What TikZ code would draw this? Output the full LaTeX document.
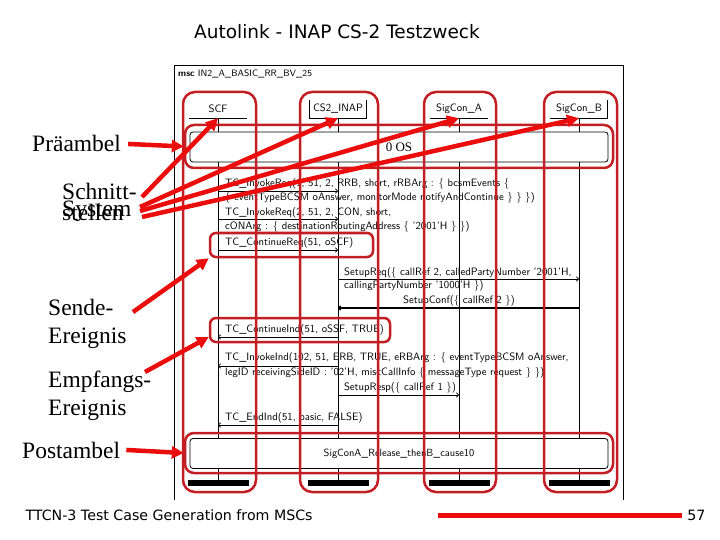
\documentclass[tikz,border=0pt]{standalone}
\usepackage{fontspec}
\setmainfont{Liberation Serif}
\newfontfamily\slidefont{DejaVu Sans}
\usepackage{tikz}
\usetikzlibrary{arrows.meta,positioning,calc}

\definecolor{hlred}{RGB}{195,30,35}
\definecolor{markred}{RGB}{235,12,12}

\begin{document}
\begin{tikzpicture}[x=1pt, y=-1pt,
    msctext/.style={font=\sffamily\fontsize{10.7}{12}\selectfont, inner sep=0pt},
    head/.style={msctext, minimum width=57pt, minimum height=18pt},
    refbox/.style={draw, line width=0.8pt, fill=white, rounded corners=3pt, minimum width=418pt, minimum height=30pt},
    msg/.style={-{To[length=3pt,width=5pt]}, line width=0.7pt},
    hilite/.style={draw=hlred, line width=2.5pt, rounded corners=12pt},
    smallhilite/.style={hilite, rounded corners=6pt},
    pointer/.style={draw=markred, line width=4.5pt, -{Triangle[length=12pt,width=12pt]}},
    annot/.style={font=\fontsize{23.5}{28}\selectfont, inner sep=0pt, anchor=base west}
]
    \useasboundingbox (0,0) rectangle (720,540);

    % slide title and footer
    \node[font=\slidefont\fontsize{18.5}{21}\selectfont, anchor=base] (title) at (337,39) {Autolink - INAP CS-2 Testzweck};
    \node[font=\slidefont\fontsize{14.2}{16}\selectfont, anchor=base west] (footer) at (22,520) {TTCN-3 Test Case Generation from MSCs};
    \node[font=\slidefont\fontsize{14.2}{16}\selectfont, anchor=base east] (pagenum) at (709,520) {57};
    \draw[markred, line width=5pt] (438,515) -- (682,515);

    % msc frame
    \draw[line width=0.8pt] (174,500) -- (174,65) -- (623,65) -- (623,500);
    \node[msctext, font=\sffamily\fontsize{9.3}{11}\selectfont, anchor=west] (mscname) at (178,74) {\textbf{msc} IN2\_A\_BASIC\_RR\_BV\_25};

    % instances
    \node[head] (scf) at (218,109) {SCF};
    \node[head] (inap) at (338,109) {CS2\_INAP};
    \node[head] (siga) at (459,109) {SigCon\_A};
    \node[head] (sigb) at (579,109) {SigCon\_B};
    \foreach \inst in {scf, inap, siga, sigb} {
        \draw[line width=0.8pt] (\inst.south) -- (\inst |- 0,480);
        \draw[line width=0.8pt] (\inst.south west) -- (\inst.south east);
        \fill ($(\inst |- 0,480)+(-30,0)$) rectangle ($(\inst |- 0,486)+(31,0)$);
    }
    \draw[line width=0.8pt] (inap.south west) -- (inap.north west) (inap.south east) -- (inap.north east);
    \draw[line width=0.8pt] (sigb.south east) -- (sigb.north east);

    % preamble and postamble
    \node[refbox, font=\fontsize{13}{15}\selectfont] (pre) at (399,147) {0 OS};
    \node[refbox, font=\sffamily\fontsize{10.4}{12}\selectfont] (post) at (399,453.5) {SigConA\_Release\_thenB\_cause10};

    % messages
    \draw[msg] (scf |- 0,191) -- (inap |- 0,191);
    \node[msctext, anchor=west] (m1a) at (225,184) {TC\_InvokeReq(1, 51, 2, RRB, short, rRBArg : \{ bcsmEvents \{};
    \node[msctext, anchor=west] (m1b) at (225,198) {\{ eventTypeBCSM oAnswer, monitorMode notifyAndContinue \} \} \})};
    \draw[msg] (scf |- 0,219) -- (inap |- 0,219);
    \node[msctext, anchor=west] (m2a) at (225,213) {TC\_InvokeReq(2, 51, 2, CON, short,};
    \node[msctext, anchor=west] (m2b) at (225,227) {cONArg : \{ destinationRoutingAddress \{ '2001'H \} \})};
    \draw[msg] (scf |- 0,250) -- (inap |- 0,250);
    \node[msctext, anchor=west] (m3) at (225,243) {TC\_ContinueReq(51, oSCF)};
    \draw[msg] (inap |- 0,279) -- (sigb |- 0,279);
    \node[msctext, anchor=west] (m4a) at (344,273) {SetupReq(\{ callRef 2, calledPartyNumber '2001'H,};
    \node[msctext, anchor=west] (m4b) at (344,286) {callingPartyNumber '1000'H \})};
    \draw[msg, line width=1.2pt] (sigb |- 0,308) -- (inap |- 0,308);
    \node[msctext] (m5) at (459,301) {SetupConf(\{ callRef 2 \})};
    \draw[msg] (inap |- 0,337) -- (scf |- 0,337);
    \node[msctext, anchor=west] (m6) at (225,330) {TC\_ContinueInd(51, oSSF, TRUE)};
    \draw[msg] (inap |- 0,366) -- (scf |- 0,366);
    \node[msctext, anchor=west] (m7a) at (225,358) {TC\_InvokeInd(102, 51, ERB, TRUE, eRBArg : \{ eventTypeBCSM oAnswer,};
    \node[msctext, anchor=west] (m7b) at (225,373) {legID receivingSideID : '02'H, miscCallInfo \{ messageType request \} \})};
    \draw[msg] (inap |- 0,395) -- (siga |- 0,395);
    \node[msctext] (m8) at (400,388) {SetupResp(\{ callRef 1 \})};
    \draw[msg] (inap |- 0,425) -- (scf |- 0,425);
    \node[msctext, anchor=west] (m9) at (225,418) {TC\_EndInd(51, basic, FALSE)};

    % red highlights
    \node[hilite, minimum width=73pt, minimum height=400pt] (scfHL) at (219.5,292) {};
    \node[hilite, minimum width=78pt, minimum height=400pt] (inapHL) at (339,292) {};
    \node[hilite, minimum width=72pt, minimum height=400pt] (sigaHL) at (460,292) {};
    \node[hilite, minimum width=73pt, minimum height=400pt] (sigbHL) at (580.5,292) {};
    \node[hilite, rounded corners=9pt, minimum width=428pt, minimum height=43pt] (preHL) at (399,146.5) {};
    \node[hilite, rounded corners=9pt, minimum width=428pt, minimum height=40pt] (postHL) at (399,453) {};
    \node[smallhilite, minimum width=163pt, minimum height=24pt] (crqHL) at (291.5,245) {};
    \node[smallhilite, minimum width=180pt, minimum height=24pt] (cinHL) at (300,330) {};

    % annotations
    \node[annot] (prae) at (32,152) {Präambel};
    \node[annot] (schnitt) at (62,200) {Schnitt-};
    \node[annot] (sys) at (62,217) {System};
    \node[annot] (stellen) at (62,221) {stellen};
    \node[annot] (sende) at (48,315) {Sende-};
    \node[annot] (sendeb) at (48,343) {Ereignis};
    \node[annot] (empf) at (48,387) {Empfangs-};
    \node[annot] (empfb) at (48,415) {Ereignis};
    \node[annot] (posta) at (22,458) {Postambel};

    \coordinate (ifA) at (142,197);
    \coordinate (ifB) at (140,207);
    \coordinate (ifC) at (140,211);
    \coordinate (ifD) at (142,217);
    \coordinate (sendeTail) at (133,312);
    \coordinate (empfTail) at (145,372);

    \draw[pointer] ([xshift=7pt]prae.east) -- (preHL.west);
    \draw[pointer] (ifA) -- (scf.south);
    \draw[pointer] (ifB) -- (inap.south);
    \draw[pointer] (ifC) -- (siga.south);
    \draw[pointer] (ifD) -- (sigb.south);
    \draw[pointer] (sendeTail) -- (crqHL.south west);
    \draw[pointer] (empfTail) -- ([yshift=-7pt]cinHL.west);
    \draw[pointer] ([xshift=6pt]posta.east) -- (postHL.west);
\end{tikzpicture}
\end{document}
